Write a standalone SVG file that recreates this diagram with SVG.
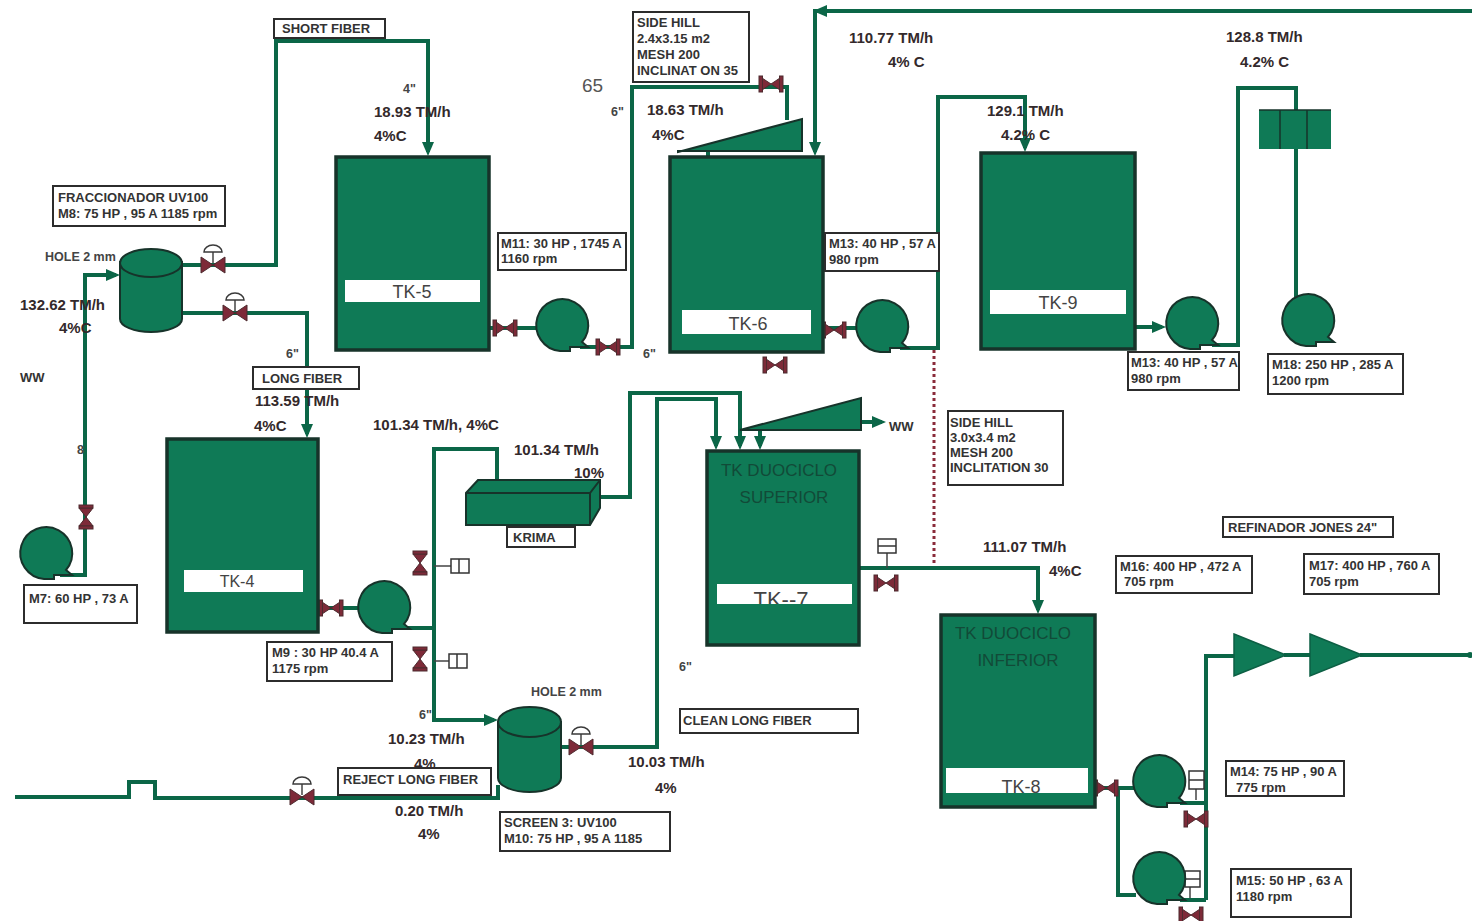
<svg xmlns="http://www.w3.org/2000/svg" xmlns:xlink="http://www.w3.org/1999/xlink" width="1472" height="921" viewBox="0 0 1472 921">
<style>
text{font-family:"Liberation Sans",Arial,sans-serif;fill:#2a2526}
.v{font-weight:bold;font-size:15px;fill:#33292b}
.b{font-size:13px;font-weight:bold;fill:#333}
.s{font-size:12.500px;font-weight:bold;fill:#444}
.tk{font-size:18px;fill:#444;text-anchor:middle}
.tkd{font-size:17px;fill:#124a38;text-anchor:middle}
.box{fill:#fff;stroke:#2c2c2c;stroke-width:2}
.lab{fill:#fff;stroke:none}
.tank{fill:#0f7a56;stroke:#17332a;stroke-width:3.5}
.eq{fill:#0f7a56;stroke:#17332a;stroke-width:2}
.ref{fill:#0f7a56;stroke:#0d5f44;stroke-width:1.500}
.pipe{fill:none;stroke:#0b6647;stroke-width:4;stroke-linejoin:miter}
.stem{fill:none;stroke:#444;stroke-width:1.500}
.val{fill:#7d2a38;stroke:#4d2a2e;stroke-width:1}
.act{fill:#fff;stroke:#3a3a3a;stroke-width:1.500}
.ins{fill:#fff;stroke:#333;stroke-width:1.500}
</style>
<defs>
<marker id="ah" markerWidth="3.500" markerHeight="3" refX="2.500" refY="1.500" orient="auto"><path d="M0 0L3.500 1.500L0 3z" fill="#0b6647"/></marker>
<g id="pump"><path class="eq" d="M26 22H8V26H-2A26 26 0 1 1 20 17z"/></g>
<g id="cv"><path class="stem" d="M0 -2V-14"/><path class="act" d="M-9 -13A9 7 0 0 1 9 -13z"/><path class="val" d="M-12 -8L12 8V-8L-12 8z"/></g>
<g id="gv"><path class="val" d="M-9 -6L9 6V-6L-9 6z"/><rect class="val" x="-12" y="-8" width="3.500" height="16"/><rect class="val" x="8.500" y="-8" width="3.500" height="16"/></g>
<g id="gvv"><path class="val" d="M-7 -9L7 9H-7L7 -9z"/><rect class="val" x="-7" y="-12" width="14" height="3"/><rect class="val" x="-7" y="9" width="14" height="3"/></g>
<g id="ib"><rect class="ins" x="0" y="-7" width="18" height="14"/><path class="ins" d="M8 -7V7"/></g>
</defs>

<g id="connectors">
<path class="pipe" d="M182 265H276V41H428V152" marker-end="url(#ah)"/>
<path class="pipe" d="M182 313H307V434" marker-end="url(#ah)"/>
<path class="pipe" d="M60 575H85V275H116" marker-end="url(#ah)"/>
<path class="pipe" d="M580 347H632V87H787V120"/>
<path class="pipe" d="M490 328H536"/>
<path class="pipe" d="M1472 11H815V152" marker-end="url(#ah)"/>
<path d="M827 5L813 11L827 17z" fill="#0b6647"/>
<path class="pipe" d="M824 328H858"/>
<path class="pipe" d="M900 348H938V97H1025V148" marker-end="url(#ah)"/>
<path fill="none" stroke="#8a2b3a" stroke-width="3" stroke-dasharray="3 3" d="M934 350V564"/>
<path class="pipe" d="M1136 327H1162" marker-end="url(#ah)"/>
<path class="pipe" d="M1212 345H1238V88H1296V110"/>
<path class="pipe" d="M1296 149V298"/>
<path class="pipe" d="M319 608H358"/>
<path class="pipe" d="M404 628H434"/>
<path class="pipe" d="M497 480V449H434V720H494" marker-end="url(#ah)"/>
<path class="pipe" d="M600 497H630V393H740V446" marker-end="url(#ah)"/>
<path class="pipe" d="M561 747H657V399H716V446" marker-end="url(#ah)"/>
<path class="pipe" d="M760 430V446" marker-end="url(#ah)"/>
<path class="pipe" d="M861 422H882" marker-end="url(#ah)"/>
<path class="pipe" d="M860 568H1038V610" marker-end="url(#ah)"/>
<path class="pipe" d="M15 797H129V782H155V798H498V785"/>
<path class="pipe" d="M1096 788H1135"/>
<path class="pipe" d="M1118 788V895H1136"/>
<path class="pipe" d="M1180 803H1206M1180 900H1206M1206 900V656H1235"/>
<path class="pipe" d="M1284 655H1312M1360 655H1470"/>
<path class="pipe" d="M708 150V158"/>
<path class="stem" d="M887 552V568M1196 780V800M1190 875V898M434 566H451M434 661H449"/>
<circle cx="1470" cy="655" r="3" fill="#0b6647"/>
</g>

<g id="valves">
<use xlink:href="#cv" x="213" y="265"/>
<use xlink:href="#cv" x="235" y="313"/>
<use xlink:href="#cv" x="302" y="797"/>
<use xlink:href="#cv" x="581" y="747"/>
<use xlink:href="#gvv" x="86" y="517"/>
<use xlink:href="#gv" x="505" y="328"/>
<use xlink:href="#gv" x="608" y="347"/>
<use xlink:href="#gv" x="771" y="84"/>
<use xlink:href="#gv" x="834" y="330"/>
<use xlink:href="#gv" x="775" y="365"/>
<use xlink:href="#gv" x="331" y="608"/>
<use xlink:href="#gv" x="886" y="583"/>
<use xlink:href="#gv" x="1106" y="788"/>
<use xlink:href="#gv" x="1196" y="819"/>
<use xlink:href="#gv" x="1191" y="915"/>
<use xlink:href="#gvv" x="420" y="563"/>
<use xlink:href="#gvv" x="420" y="659"/>
<use xlink:href="#ib" x="451" y="566"/>
<use xlink:href="#ib" x="449" y="661"/>
<g><rect class="ins" x="878" y="539" width="18" height="14"/><path class="ins" d="M878 546H896"/></g>
<g><rect class="ins" x="1189" y="771" width="15" height="18"/><path class="ins" d="M1189 780H1204"/></g>
<g><rect class="ins" x="1185" y="871" width="15" height="16"/><path class="ins" d="M1185 879H1200"/></g>
</g>

<g id="TK-5"><rect class="tank" x="336" y="157" width="153" height="193"/><rect class="lab" x="345" y="280" width="135" height="22"/><text class="tk" x="412" y="298">TK-5</text></g>
<g id="TK-6"><rect class="tank" x="670" y="157" width="153" height="195"/><rect class="lab" x="682" y="310" width="129" height="24"/><text class="tk" x="748" y="330">TK-6</text></g>
<g id="TK-9"><rect class="tank" x="981" y="153" width="154" height="196"/><rect class="lab" x="990" y="290" width="136" height="24"/><text class="tk" x="1058" y="309">TK-9</text></g>
<g id="TK-4"><rect class="tank" x="167" y="439" width="151" height="193"/><rect class="lab" x="184" y="570" width="119" height="22"/><text class="tk" x="237" y="587" style="font-size:16px">TK-4</text></g>
<g id="TK-7"><rect class="tank" x="707" y="451" width="152" height="194"/><text class="tkd" x="779" y="476">TK DUOCICLO</text><text class="tkd" x="784" y="503">SUPERIOR</text><rect class="lab" x="717" y="584" width="135" height="20"/><text class="tk" x="781" y="607" style="font-size:22px">TK--7</text><rect x="717" y="604" width="135" height="8" fill="#0f7a56"/></g>
<g id="TK-8"><rect class="tank" x="941" y="615" width="154" height="192"/><text class="tkd" x="1013" y="639">TK DUOCICLO</text><text class="tkd" x="1018" y="666">INFERIOR</text><rect class="lab" x="946" y="768" width="142" height="25"/><text class="tk" x="1021" y="793">TK-8</text></g>

<g id="fraccionador"><path class="eq" d="M120 262V319A31 13 0 0 0 182 319V262z"/><ellipse class="eq" cx="151" cy="263" rx="31" ry="14"/></g>
<g id="screen3"><path class="eq" d="M498 722V778A31.500 14 0 0 0 561 778V722z"/><ellipse class="eq" cx="529.500" cy="722" rx="31.500" ry="15"/></g>
<g id="sidehill-1"><path class="eq" d="M678 152L802 119V151H678z"/></g>
<g id="sidehill-2"><path class="eq" d="M740 430L861 398V430z"/></g>
<g id="krima"><path class="eq" d="M466 493L478 480H600V508L590 525H466z"/><path class="eq" style="fill:none" d="M466 493H590L600 480M590 493V525"/></g>
<g id="screens"><rect x="1259" y="110" width="72" height="39" fill="#0f7a56"/><path fill="none" stroke="#17332a" stroke-width="1.500" d="M1259 110H1331M1280 110V149M1307 110V149"/></g>
<g id="refinador-1"><path class="ref" d="M1234 634L1286 655L1234 676z"/></g>
<g id="refinador-2"><path class="ref" d="M1310 634L1362 655L1310 676z"/></g>

<g id="pumps">
<use xlink:href="#pump" x="46" y="553"/>
<use xlink:href="#pump" x="562" y="325"/>
<use xlink:href="#pump" x="882" y="326"/>
<use xlink:href="#pump" x="1192" y="323"/>
<use xlink:href="#pump" x="1308" y="320"/>
<use xlink:href="#pump" x="384" y="607"/>
<use xlink:href="#pump" x="1159" y="781"/>
<use xlink:href="#pump" x="1159" y="878"/>
</g>

<g id="labels">
<rect class="box" x="274" y="19" width="111" height="19"/><text class="b" x="282" y="33">SHORT FIBER</text>
<rect class="box" x="633" y="12" width="116" height="70"/><text class="b" x="637" y="27">SIDE HILL</text><text class="b" x="637" y="43">2.4x3.15 m2</text><text class="b" x="637" y="59">MESH 200</text><text class="b" x="637" y="75">INCLINAT ON 35</text>
<rect class="box" x="53" y="186" width="172" height="40"/><text class="b" x="58" y="202">FRACCIONADOR UV100</text><text class="b" x="58" y="218">M8: 75 HP , 95 A 1185 rpm</text>
<rect class="box" x="498" y="233" width="128" height="37"/><text class="b" x="501" y="248">M11: 30 HP , 1745 A</text><text class="b" x="501" y="263">1160 rpm</text>
<rect class="box" x="825" y="233" width="114" height="38"/><text class="b" x="829" y="248">M13: 40 HP , 57 A</text><text class="b" x="829" y="264">980 rpm</text>
<rect class="box" x="1128" y="352" width="111" height="38"/><text class="b" x="1131" y="367">M13: 40 HP , 57 A</text><text class="b" x="1131" y="383">980 rpm</text>
<rect class="box" x="1268" y="354" width="135" height="40"/><text class="b" x="1272" y="369">M18:  250 HP , 285 A</text><text class="b" x="1272" y="385">1200 rpm</text>
<rect class="box" x="253" y="367" width="106" height="22"/><text class="b" x="262" y="383">LONG FIBER</text>
<rect class="box" x="24" y="585" width="113" height="38"/><text class="b" x="29" y="603">M7: 60 HP , 73 A</text>
<rect class="box" x="267" y="642" width="125" height="39"/><text class="b" x="272" y="657">M9 : 30 HP   40.4 A</text><text class="b" x="272" y="673">1175 rpm</text>
<rect class="box" x="507" y="527" width="68" height="20"/><text class="b" x="513" y="542">KRIMA</text>
<rect class="box" x="948" y="411" width="115" height="74"/><text class="b" x="950" y="427">SIDE HILL</text><text class="b" x="950" y="442">3.0x3.4 m2</text><text class="b" x="950" y="457">MESH 200</text><text class="b" x="950" y="472">INCLITATION 30</text>
<rect class="box" x="1223" y="517" width="170" height="20"/><text class="b" x="1228" y="532">REFINADOR JONES 24"</text>
<rect class="box" x="1116" y="556" width="136" height="37"/><text class="b" x="1120" y="571">M16: 400 HP ,  472 A</text><text class="b" x="1124" y="586">705 rpm</text>
<rect class="box" x="1304" y="554" width="135" height="40"/><text class="b" x="1309" y="570">M17: 400 HP , 760 A</text><text class="b" x="1309" y="586">705 rpm</text>
<rect class="box" x="680" y="709" width="178" height="24"/><text class="b" x="683" y="725">CLEAN LONG FIBER</text>
<rect class="box" x="338" y="768" width="153" height="27"/><text class="b" x="343" y="784">REJECT LONG FIBER</text>
<rect class="box" x="500" y="812" width="170" height="39"/><text class="b" x="504" y="827">SCREEN 3: UV100</text><text class="b" x="504" y="843">M10: 75 HP , 95 A 1185</text>
<rect class="box" x="1226" y="761" width="118" height="35"/><text class="b" x="1230" y="776">M14: 75 HP , 90  A</text><text class="b" x="1236" y="792">775 rpm</text>
<rect class="box" x="1231" y="869" width="120" height="48"/><text class="b" x="1236" y="885">M15: 50 HP , 63  A</text><text class="b" x="1236" y="901">1180 rpm</text>

<text class="v" x="374" y="117">18.93 TM/h</text><text class="v" x="374" y="141">4%C</text>
<text class="s" x="403" y="93">4"</text>
<text class="v" x="647" y="115">18.63 TM/h</text><text class="v" x="652" y="140">4%C</text>
<text x="582" y="92" style="font-size:19px;fill:#555">65</text>
<text class="s" x="611" y="116">6"</text><text class="s" x="643" y="358">6"</text>
<text class="v" x="849" y="43">110.77 TM/h</text><text class="v" x="888" y="67">4% C</text>
<text class="v" x="987" y="116">129.1 TM/h</text><text class="v" x="1001" y="140">4.2% C</text>
<text class="v" x="1226" y="42">128.8 TM/h</text><text class="v" x="1240" y="67">4.2% C</text>
<text class="s" x="45" y="261">HOLE 2 mm</text>
<text class="v" x="20" y="310">132.62 TM/h</text><text class="v" x="59" y="333">4%C</text>
<text class="b" x="20" y="382">WW</text>
<text class="s" x="286" y="358">6"</text><text class="s" x="77" y="454">8</text>
<text class="v" x="255" y="406">113.59 TM/h</text><text class="v" x="254" y="431">4%C</text>
<text class="v" x="373" y="430">101.34 TM/h, 4%C</text>
<text class="v" x="514" y="455">101.34 TM/h</text><text class="v" x="574" y="478">10%</text>
<text class="b" x="889" y="431">WW</text>
<text class="v" x="983" y="552">111.07 TM/h</text><text class="v" x="1049" y="576">4%C</text>
<text class="s" x="679" y="671">6"</text>
<text class="s" x="531" y="696">HOLE 2 mm</text><text class="s" x="419" y="719">6"</text>
<text class="v" x="388" y="744">10.23 TM/h</text><text class="v" x="414" y="769">4%</text>
<text class="v" x="628" y="767">10.03 TM/h</text><text class="v" x="655" y="793">4%</text>
<text class="v" x="395" y="816">0.20 TM/h</text><text class="v" x="418" y="839">4%</text>
</g>
</svg>
